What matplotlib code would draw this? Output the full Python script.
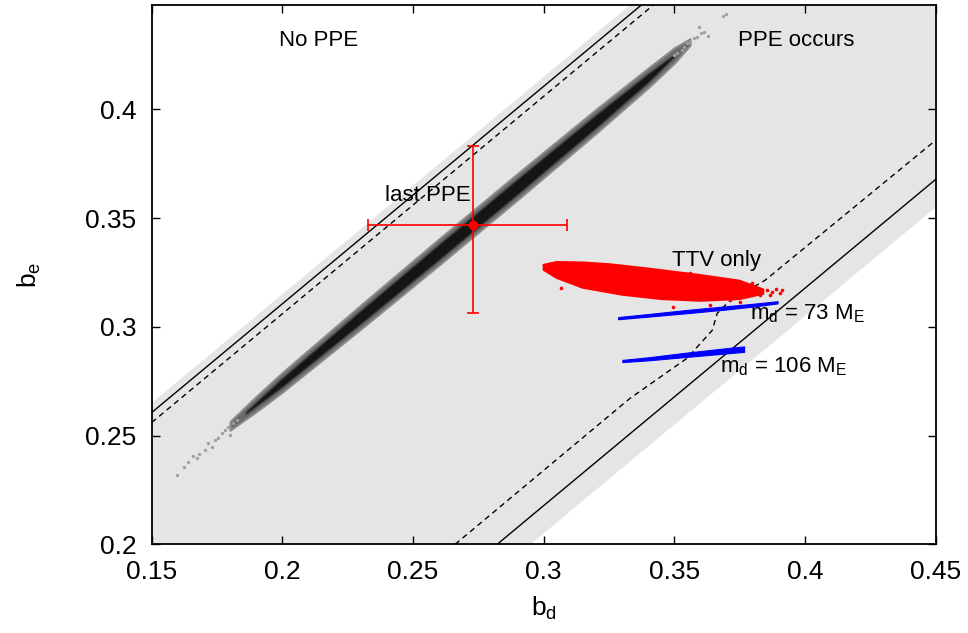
import numpy as np
import matplotlib.pyplot as plt

plt.rcParams['font.family'] = ['Liberation Sans', 'DejaVu Sans']
plt.rcParams['font.size'] = 19
plt.rcParams['mathtext.fontset'] = 'custom'
plt.rcParams['mathtext.rm'] = 'Liberation Sans'

# ---- stability boundaries (b_e vs b_d) ----
edge_x = [0.15, 0.45]
shade_hi = [0.265, 0.565]      # gray region upper edge
shade_lo = [0.055, 0.355]      # gray region lower edge
upper_solid = [0.2606, 0.5606]
upper_dash = [0.2560, 0.5560]
lower_solid = [0.0678, 0.3678]
lower_dash_x = [0.2661, 0.3330, 0.3548, 0.3645, 0.3664, 0.3713, 0.3847, 0.4500]
lower_dash_y = [0.2000, 0.2671, 0.2855, 0.2984, 0.3062, 0.3122, 0.3214, 0.3858]

# ---- PPE-constrained solutions (diagonal band) ----
halo_x = [0.180, 0.190, 0.200, 0.230, 0.260, 0.290, 0.320, 0.340, 0.350, 0.356]
halo_lo = [0.2525, 0.2610, 0.2700, 0.2990, 0.3285, 0.3585, 0.3890, 0.4100, 0.4213, 0.4295]
halo_hi = [0.2565, 0.2680, 0.2790, 0.3100, 0.3405, 0.3705, 0.4000, 0.4190, 0.4283, 0.4325]
core_x = [0.186, 0.200, 0.230, 0.260, 0.290, 0.320, 0.340, 0.350]
core_lo = [0.2600, 0.2725, 0.3015, 0.3310, 0.3610, 0.3915, 0.4125, 0.4243]
core_hi = [0.2610, 0.2765, 0.3075, 0.3380, 0.3680, 0.3975, 0.4165, 0.4253]
sparse_bd = [0.1597, 0.1624, 0.1639, 0.1658, 0.1673, 0.1681, 0.1704, 0.1715, 0.1731,
             0.1742, 0.1754, 0.1769, 0.1781, 0.1792, 0.1800, 0.1811, 0.1826,
             0.3498, 0.3509, 0.3528, 0.3536, 0.3547, 0.3559, 0.3574, 0.3586,
             0.3593, 0.3601, 0.3612, 0.3627, 0.3688, 0.3696]
sparse_be = [0.2319, 0.2356, 0.2378, 0.2406, 0.2397, 0.2415, 0.2434, 0.2466, 0.2448,
             0.2480, 0.2489, 0.2512, 0.2526, 0.2540, 0.2503, 0.2558, 0.2572,
             0.4250, 0.4259, 0.4273, 0.4287, 0.4305, 0.4309, 0.4327, 0.4332,
             0.4378, 0.4351, 0.4355, 0.4337, 0.4429, 0.4438]

# ---- TTV-only solutions ----
ttv_top_x = [0.3000, 0.3050, 0.3150, 0.3250, 0.3400, 0.3600, 0.3750, 0.3840]
ttv_top_y = [0.3285, 0.3298, 0.3296, 0.3288, 0.3268, 0.3238, 0.3212, 0.3172]
ttv_bot_x = [0.3840, 0.3750, 0.3600, 0.3450, 0.3300, 0.3150, 0.3050, 0.3000]
ttv_bot_y = [0.3152, 0.3128, 0.3120, 0.3128, 0.3148, 0.3180, 0.3225, 0.3262]
ttv_out_bd = [0.3009, 0.3024, 0.3066, 0.3043, 0.3089, 0.3150, 0.3185, 0.3139, 0.3560,
              0.3587, 0.3740, 0.3763, 0.3797, 0.3828, 0.3866, 0.3904, 0.3912, 0.3855,
              0.3752, 0.3713, 0.3637, 0.3495, 0.3875, 0.3890]
ttv_out_be = [0.3275, 0.3284, 0.3178, 0.3261, 0.3293, 0.3284, 0.3284, 0.3192, 0.3247,
              0.3229, 0.3201, 0.3169, 0.3201, 0.3146, 0.3146, 0.3155, 0.3169, 0.3169,
              0.3114, 0.3123, 0.3100, 0.3091, 0.3160, 0.3172]

# ---- fixed-mass solutions ----
m73_x = [0.3285, 0.3400, 0.3550, 0.3700, 0.3800, 0.3895]
m73_lo = [0.3035, 0.3047, 0.3063, 0.3080, 0.3093, 0.3108]
m73_hi = [0.3045, 0.3059, 0.3078, 0.3095, 0.3106, 0.3118]
m106_x = [0.3301, 0.3400, 0.3550, 0.3700, 0.3767]
m106_lo = [0.2838, 0.2846, 0.2862, 0.2878, 0.2885]
m106_hi = [0.2848, 0.2860, 0.2882, 0.2902, 0.2910]

# last PPE estimate
ppe_bd, ppe_be = 0.2730, 0.3470
ppe_xerr = [[0.0402], [0.0360]]
ppe_yerr = [[0.0405], [0.0360]]

fig = plt.figure(figsize=(9.68, 6.33), dpi=100)
ax = fig.add_axes([0.1567, 0.1401, 0.8099, 0.8520])

ax.fill_between(edge_x, shade_lo, shade_hi, color='#e5e5e5', lw=0, zorder=0)
ax.plot(edge_x, upper_solid, color='black', lw=1.0, zorder=1)
ax.plot(edge_x, upper_dash, color='black', lw=1.0, dashes=(4, 3), zorder=1)
ax.plot(edge_x, lower_solid, color='black', lw=1.0, zorder=1)
ax.plot(lower_dash_x, lower_dash_y, color='black', lw=1.0, dashes=(4, 3), zorder=1)

# diagonal band of PPE solutions
ax.fill_between(halo_x, halo_lo, halo_hi, color='#6a6a6a', lw=1.5, ec='#8a8a8a', zorder=2)
ax.fill_between(core_x, core_lo, core_hi, color='#151515', lw=1.0, ec='#3a3a3a', zorder=3)
ax.plot(sparse_bd, sparse_be, 'o', color='#a0a0a0', ms=2.4, mew=0, zorder=3)

# TTV only cloud
ax.fill(ttv_top_x + ttv_bot_x, ttv_top_y + ttv_bot_y, color='#ff0000', lw=1.5, zorder=4)
ax.plot(ttv_out_bd, ttv_out_be, 'o', color='#ff0000', ms=2.6, mew=0, zorder=4)

# fixed-mass solutions
ax.fill_between(m73_x, m73_lo, m73_hi, color='#0000ff', lw=0.8, ec='#0000ff', zorder=4)
ax.fill_between(m106_x, m106_lo, m106_hi, color='#0000ff', lw=0.8, ec='#0000ff', zorder=4)

ax.errorbar(ppe_bd, ppe_be, xerr=ppe_xerr, yerr=ppe_yerr, fmt='o', color='#ff0000',
            ms=6, lw=1.2, capsize=4, capthick=1.2, zorder=5)

ax.text(0.2137, 0.4319, 'No PPE', fontsize=16, ha='center', va='center')
ax.text(0.3966, 0.4319, 'PPE occurs', fontsize=16, ha='center', va='center')
ax.text(0.2558, 0.3605, 'last PPE', fontsize=16, ha='center', va='center')
ax.text(0.3660, 0.3305, 'TTV only', fontsize=16, ha='center', va='center')
ax.text(0.3790, 0.3062, r'm$_\mathrm{d}$ = 73 M$_\mathrm{E}$', fontsize=16, ha='left', va='center')
ax.text(0.3673, 0.2818, r'm$_\mathrm{d}$ = 106 M$_\mathrm{E}$', fontsize=16, ha='left', va='center')

ax.set_xlim(0.15, 0.45)
ax.set_ylim(0.2, 0.448)
ax.set_xticks([0.15, 0.2, 0.25, 0.3, 0.35, 0.4, 0.45])
ax.set_xticklabels(['0.15', '0.2', '0.25', '0.3', '0.35', '0.4', '0.45'])
ax.set_yticks([0.2, 0.25, 0.3, 0.35, 0.4])
ax.set_yticklabels(['0.2', '0.25', '0.3', '0.35', '0.4'])
ax.tick_params(direction='in', length=6, width=1.0, top=True, right=True, pad=11)
for s in ax.spines.values():
    s.set_linewidth(1.3)

ax.set_xlabel(r'b$_\mathrm{d}$', fontsize=19, labelpad=8)
ax.set_ylabel(r'b$_\mathrm{e}$', fontsize=19, labelpad=30)

fig.savefig('out.png', dpi=100)
